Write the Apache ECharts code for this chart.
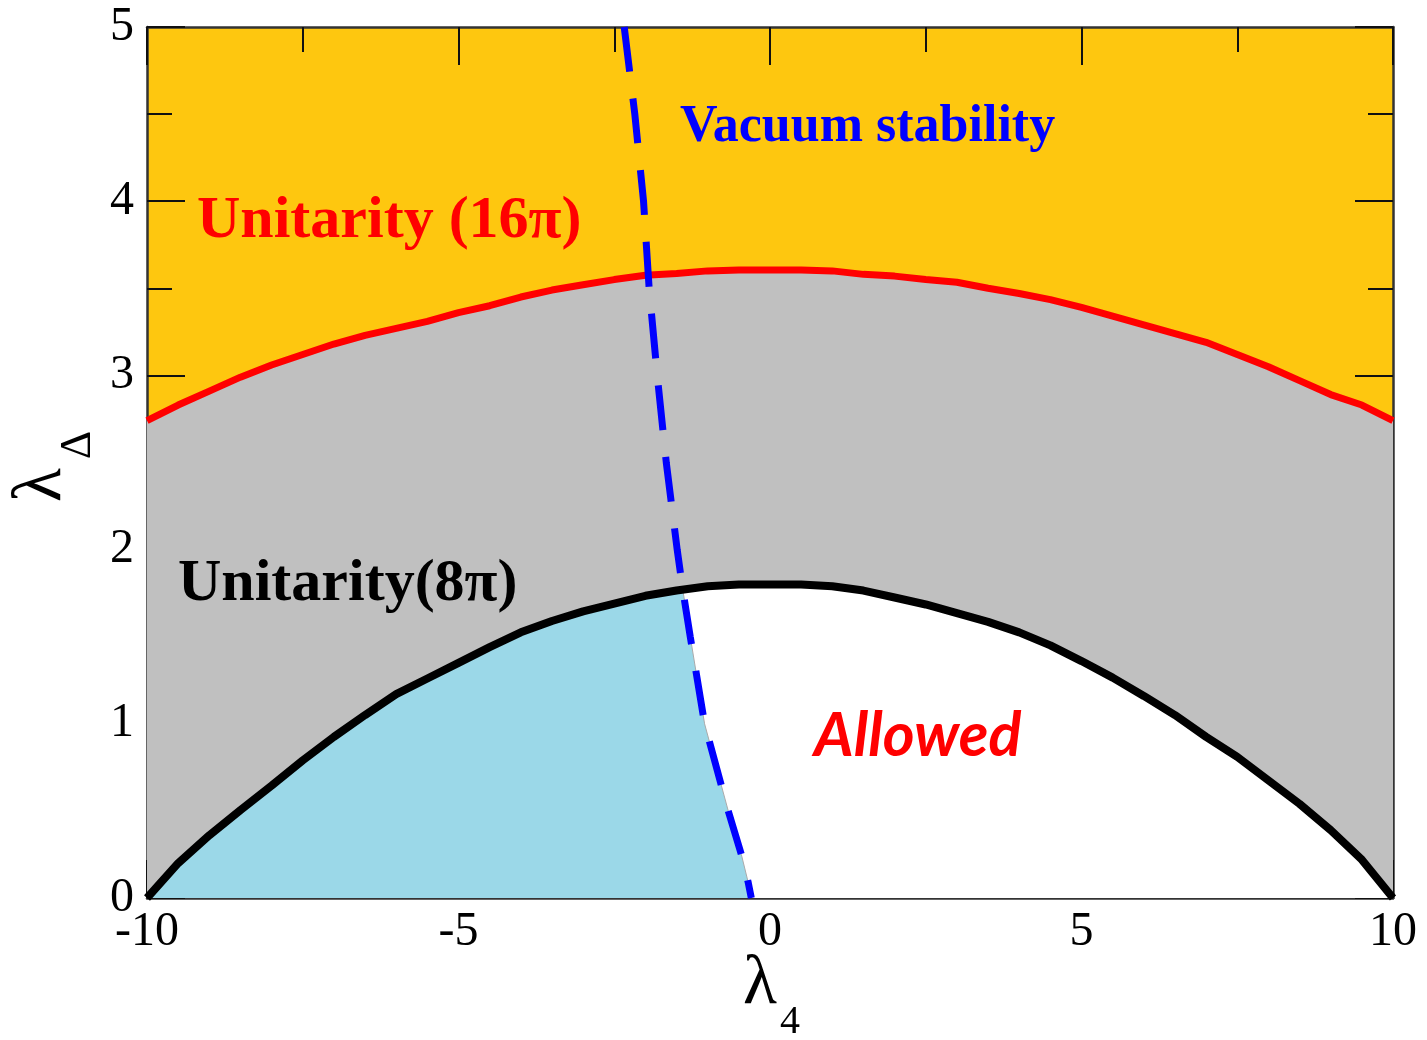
<!DOCTYPE html>
<html>
<head>
<meta charset="utf-8">
<script src="https://cdn.jsdelivr.net/npm/echarts@6/dist/echarts.min.js"></script>
<style>
  html, body { margin: 0; padding: 0; background: #ffffff; }
  #chart { width: 1427px; height: 1040px; }
</style>
</head>
<body>
<div id="chart"></div>
<script>
// lambda_4 sampling points
const lambda4 = [-10, -9.5, -9, -8.5, -8, -7.5, -7, -6.5, -6, -5.5, -5, -4.5, -4, -3.5, -3, -2.5, -2, -1.5, -1, -0.5,
                 0, 0.5, 1, 1.5, 2, 2.5, 3, 3.5, 4, 4.5, 5, 5.5, 6, 6.5, 7, 7.5, 8, 8.5, 9, 9.5, 10];

// Unitarity bound (16 pi) on lambda_Delta
const unitarity16 = [2.74, 2.83, 2.91, 2.99, 3.06, 3.12, 3.18, 3.23, 3.27, 3.31, 3.36, 3.40, 3.45, 3.49, 3.52, 3.55, 3.575, 3.585, 3.60, 3.605,
                     3.605, 3.605, 3.60, 3.58, 3.57, 3.55, 3.535, 3.50, 3.47, 3.435, 3.39, 3.34, 3.29, 3.24, 3.19, 3.12, 3.05, 2.97, 2.89, 2.83, 2.74];

// Unitarity bound (8 pi) on lambda_Delta
const unitarity8 = [0, 0.20, 0.36, 0.505, 0.645, 0.79, 0.925, 1.05, 1.17, 1.26, 1.35, 1.44, 1.525, 1.59, 1.645, 1.69, 1.735, 1.765, 1.79, 1.80,
                    1.80, 1.80, 1.79, 1.765, 1.725, 1.685, 1.635, 1.585, 1.525, 1.45, 1.36, 1.265, 1.16, 1.05, 0.925, 0.81, 0.675, 0.54, 0.39, 0.22, 0];

// Vacuum stability boundary, traced from top to bottom
const vacuumX = [-2.34, -2.17, -2.03, -1.94, -1.81, -1.665, -1.49, -1.40, -1.28, -1.05, -0.67, -0.46, -0.35, -0.30];
const vacuumY = [5, 4.5, 4, 3.5, 3, 2.5, 2, 1.77, 1.5, 1.0, 0.5, 0.25, 0.09, 0];

// Axis tick labels
const xTickLabels = ['-10', '-5', '0', '5', '10'];
const yTickLabels = ['0', '1', '2', '3', '4', '5'];
const xTickValues = [-10, -5, 0, 5, 10];
const yTickValues = [0, 1, 2, 3, 4, 5];

const ORANGE = '#FEC70F';
const GREY = '#C0C0C0';
const CYAN = '#9BD8E8';
const SERIF = '"Liberation Serif", "Times New Roman", serif';

const red16 = lambda4.map((x, i) => [x, unitarity16[i]]);
const black8 = lambda4.map((x, i) => [x, unitarity8[i]]);
const vacuum = vacuumX.map((x, i) => [x, vacuumY[i]]);

// value of the 8 pi curve at any lambda_4 (linear between samples)
function black8At(x) {
  for (let i = 0; i < lambda4.length - 1; i++) {
    if (x >= lambda4[i] && x <= lambda4[i + 1]) {
      const t = (x - lambda4[i]) / (lambda4[i + 1] - lambda4[i]);
      return unitarity8[i] + t * (unitarity8[i + 1] - unitarity8[i]);
    }
  }
  return 0;
}

// Region under the 8 pi curve and left of the vacuum-stability line
const cross = vacuum.findIndex(p => p[1] <= black8At(p[0]) + 1e-6);
const excluded = black8.filter(p => p[0] < vacuum[cross][0]).concat(vacuum.slice(cross));

function tickFmt(values, labels) {
  return function (v) {
    const k = values.findIndex(t => Math.abs(t - v) < 1e-9);
    return k >= 0 ? labels[k] : '';
  };
}

const tickCommon = {
  axisLine: { show: true, onZero: false, lineStyle: { color: '#333333', width: 2.5 } },
  axisTick: { show: true, inside: true, length: 38, lineStyle: { color: '#111111', width: 2 } },
  minorTick: { show: true, splitNumber: 2, length: 25, lineStyle: { color: '#111111', width: 2 } },
  splitLine: { show: false },
  minorSplitLine: { show: false }
};

const chart = echarts.init(document.getElementById('chart'), null, { renderer: 'canvas' });

chart.setOption({
  animation: false,
  backgroundColor: '#ffffff',
  grid: { left: 147, right: 34, top: 27, bottom: 142, show: true, backgroundColor: ORANGE, borderWidth: 0 },
  xAxis: [
    Object.assign({
      type: 'value', min: -10, max: 10, interval: 5, position: 'bottom',
      axisLabel: {
        show: true, margin: 10, color: '#000', fontFamily: SERIF, fontSize: 48,
        formatter: tickFmt(xTickValues, xTickLabels)
      }
    }, tickCommon),
    Object.assign({
      type: 'value', min: -10, max: 10, interval: 5, position: 'top',
      axisLabel: { show: false }
    }, tickCommon)
  ],
  yAxis: [
    Object.assign({
      type: 'value', min: 0, max: 5, interval: 1, position: 'left',
      axisLabel: {
        show: true, margin: 13, color: '#000', fontFamily: SERIF, fontSize: 48,
        formatter: tickFmt(yTickValues, yTickLabels)
      }
    }, tickCommon),
    Object.assign({
      type: 'value', min: 0, max: 5, interval: 1, position: 'right',
      axisLabel: { show: false }
    }, tickCommon)
  ],
  series: [
    {
      name: 'Unitarity (16π)', type: 'line', data: red16, showSymbol: false, clip: true,
      lineStyle: { color: '#FF0000', width: 7 },
      areaStyle: { color: GREY, opacity: 1, origin: 'start' },
      z: 2
    },
    {
      name: 'below 8π', type: 'line', data: black8, showSymbol: false, clip: true,
      lineStyle: { width: 0 },
      areaStyle: { color: '#ffffff', opacity: 1, origin: 'start' },
      z: 3
    },
    {
      name: 'unstable', type: 'line', data: excluded, showSymbol: false, clip: true,
      lineStyle: { color: '#aaaaaa', width: 1 },
      areaStyle: { color: CYAN, opacity: 1, origin: 'start' },
      z: 4
    },
    {
      name: 'Unitarity(8π)', type: 'line', data: black8, showSymbol: false, clip: true,
      lineStyle: { color: '#000000', width: 8 },
      z: 5
    },
    {
      name: 'Vacuum stability', type: 'line', data: vacuum, showSymbol: false, clip: true,
      lineStyle: { color: '#0000FF', width: 7, type: [45, 27] },
      z: 6
    }
  ],
  graphic: [
    {
      type: 'text', x: 680, y: 128, z: 100,
      style: { text: 'Vacuum stability', fill: '#0000FF', font: 'bold 52px ' + SERIF,
               textAlign: 'left', textVerticalAlign: 'middle', align: 'left', verticalAlign: 'middle' }
    },
    {
      type: 'text', x: 197, y: 221, z: 100,
      style: { text: 'Unitarity (16π)', fill: '#FF0000', font: 'bold 60px ' + SERIF,
               textAlign: 'left', textVerticalAlign: 'middle', align: 'left', verticalAlign: 'middle' }
    },
    {
      type: 'text', x: 178, y: 584, z: 100,
      style: { text: 'Unitarity(8π)', fill: '#000000', font: 'bold 60px ' + SERIF,
               textAlign: 'left', textVerticalAlign: 'middle', align: 'left', verticalAlign: 'middle' }
    },
    {
      type: 'text', x: 814, y: 736, z: 100,
      style: { text: 'Allowed', fill: '#FF0000', font: 'italic bold 61px Lato, "Open Sans", sans-serif',
               textAlign: 'left', textVerticalAlign: 'middle', align: 'left', verticalAlign: 'middle' }
    },
    {
      type: 'text', x: 760, y: 985, z: 100,
      style: { text: 'λ', fill: '#000', font: '70px ' + SERIF,
               textAlign: 'center', textVerticalAlign: 'middle', align: 'center', verticalAlign: 'middle' }
    },
    {
      type: 'text', x: 790, y: 1022, z: 100,
      style: { text: '4', fill: '#000', font: '40px ' + SERIF,
               textAlign: 'center', textVerticalAlign: 'middle', align: 'center', verticalAlign: 'middle' }
    },
    {
      type: 'group', x: 42, y: 445, rotation: Math.PI / 2, z: 100,
      children: [
        {
          type: 'text', x: -40, y: 0,
          style: { text: 'λ', fill: '#000', font: '70px ' + SERIF,
                   textAlign: 'center', textVerticalAlign: 'middle', align: 'center', verticalAlign: 'middle' }
        },
        {
          type: 'text', x: 0, y: 36,
          style: { text: 'Δ', fill: '#000', font: '44px ' + SERIF,
                   textAlign: 'center', textVerticalAlign: 'middle', align: 'center', verticalAlign: 'middle' }
        }
      ]
    }
  ]
});
</script>
</body>
</html>
